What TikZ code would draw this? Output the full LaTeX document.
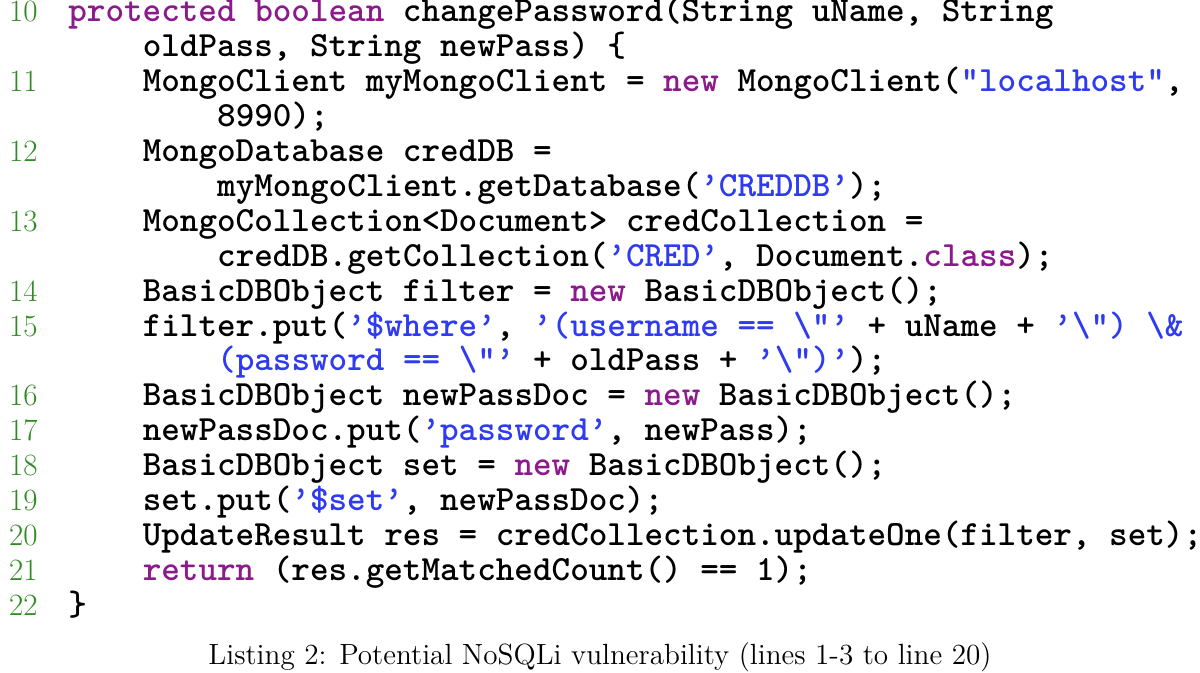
\documentclass[tikz,border=0pt]{standalone}
\usepackage{fontspec}
\definecolor{kwc}{HTML}{8B1A8B}
\definecolor{stc}{HTML}{2F3BF0}
\definecolor{lnc}{HTML}{2E8B22}
\newcommand{\kw}[1]{\textcolor{kwc}{#1}}
\newcommand{\st}[1]{\textcolor{stc}{#1}}
\newcommand{\bs}{\textbackslash}
\tikzset{code/.style={anchor=base west,inner sep=0pt,font=\fontsize{17.7}{20}\selectfont\ttfamily\bfseries},
  lno/.style={anchor=base east,inner sep=0pt,text=lnc,font=\fontsize{15.5}{18}\selectfont},
  captext/.style={anchor=base,inner sep=0pt,font=\fontsize{14.6}{18}\selectfont}}
\newcommand{\cl}[4]{\node[code] (#1) at ({68+#3*18.6},{22+#2*34.9}) {#4};}
\newcommand{\lnum}[3]{\node[lno] (#1) at (38,{22+#2*34.9}) {#3};}
\begin{document}
\begin{tikzpicture}[x=0.5pt,y=-0.5pt]
\useasboundingbox (0,0) rectangle (1200,673);
\lnum{n10}{0}{10}\cl{c0}{0}{0}{\kw{protected boolean} changePassword(String uName, String}
\cl{c1}{1}{4}{oldPass, String newPass) \{}
\lnum{n11}{2}{11}\cl{c2}{2}{4}{MongoClient myMongoClient = \kw{new} MongoClient(\st{"localhost"},}
\cl{c3}{3}{8}{8990);}
\lnum{n12}{4}{12}\cl{c4}{4}{4}{MongoDatabase credDB =}
\cl{c5}{5}{8}{myMongoClient.getDatabase(\st{’CREDDB’});}
\lnum{n13}{6}{13}\cl{c6}{6}{4}{MongoCollection<Document> credCollection =}
\cl{c7}{7}{8}{credDB.getCollection(\st{’CRED’}, Document.\kw{class});}
\lnum{n14}{8}{14}\cl{c8}{8}{4}{BasicDBObject filter = \kw{new} BasicDBObject();}
\lnum{n15}{9}{15}\cl{c9}{9}{4}{filter.put(\st{’\$where’}, \st{’(username == \bs"’} + uName + \st{’\bs") \bs\&}}
\cl{c10}{10}{8}{\st{(password == \bs"’} + oldPass + \st{’\bs")’});}
\lnum{n16}{11}{16}\cl{c11}{11}{4}{BasicDBObject newPassDoc = \kw{new} BasicDBObject();}
\lnum{n17}{12}{17}\cl{c12}{12}{4}{newPassDoc.put(\st{’password’}, newPass);}
\lnum{n18}{13}{18}\cl{c13}{13}{4}{BasicDBObject set = \kw{new} BasicDBObject();}
\lnum{n19}{14}{19}\cl{c14}{14}{4}{set.put(\st{’\$set’}, newPassDoc);}
\lnum{n20}{15}{20}\cl{c15}{15}{4}{UpdateResult res = credCollection.updateOne(filter, set);}
\lnum{n21}{16}{21}\cl{c16}{16}{4}{\kw{return} (res.getMatchedCount() == 1);}
\lnum{n22}{17}{22}\cl{c17}{17}{0}{\}}
\node[captext] (caption) at (600,664) {Listing 2: Potential NoSQLi vulnerability (lines 1-3 to line 20)};
\end{tikzpicture}
\end{document}
